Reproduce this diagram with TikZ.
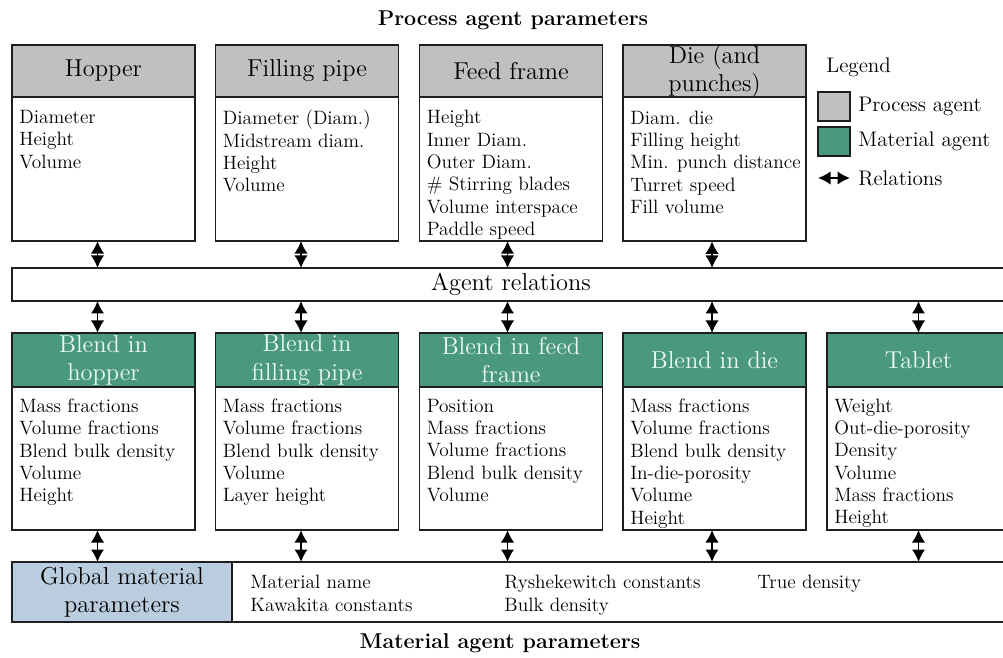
\documentclass[tikz,border=0pt]{standalone}
\usepackage{tikz}
\usetikzlibrary{arrows.meta,positioning}
\definecolor{procgray}{RGB}{192,192,192}
\definecolor{matgreen}{RGB}{74,152,128}
\definecolor{headtext}{RGB}{236,250,244}
\definecolor{globblue}{RGB}{186,205,222}
\definecolor{linegray}{RGB}{30,30,30}
\newcommand{\headfont}{\fontsize{13.9}{16}\selectfont}
\newcommand{\itemfont}{\fontsize{11}{12.7}\selectfont}
\newcommand{\legfont}{\fontsize{12}{14}\selectfont}
\newcommand{\titlefont}{\fontsize{12.2}{14}\selectfont\bfseries}
\tikzstyle{box}      = [draw=linegray, line width=1.1pt, inner sep=0pt, outer sep=0pt, minimum width=36.6mm]
\tikzstyle{prochead} = [box, fill=procgray, minimum height=10.4mm, align=center, font=\headfont]
\tikzstyle{matshead} = [box, fill=matgreen, text=headtext, minimum height=10.8mm, align=center, font=\headfont]
\tikzstyle{items}    = [anchor=north west, align=left, inner sep=0pt, font=\itemfont]
\tikzstyle{legtext}  = [anchor=west, inner sep=0pt, font=\legfont]
\tikzstyle{rel}      = [{Latex[width=2.7mm,length=2.5mm]}-{Latex[width=2.7mm,length=2.5mm]}, line width=1.1pt, draw=black]

\begin{document}
\begin{tikzpicture}[x=0.2mm, y=-0.2mm]
		\useasboundingbox (0,0) rectangle (1003,658);

		% process agents
		\node[font=\titlefont] (ptitle) at (513,20) {Process agent parameters};
		\node[prochead] (hop)   at (103.5,71) {Hopper};
		\node[prochead] (pipe)  at (307,71)   {Filling pipe};
		\node[prochead] (frame) at (511,71)   {Feed frame};
		\node[prochead] (die)   at (714.5,71) {Die (and\\punches)};
		\node[box, minimum height=28.8mm, below=0pt of hop]   (hopbody)   {};
		\node[box, minimum height=28.8mm, below=0pt of pipe]  (pipebody)  {};
		\node[box, minimum height=28.8mm, below=0pt of frame] (framebody) {};
		\node[box, minimum height=28.8mm, below=0pt of die]   (diebody)   {};
		\node[items] (hoplist)   at ([xshift=1.4mm,yshift=-2.6mm]hopbody.north west)   {Diameter\\Height\\Volume};
		\node[items] (pipelist)  at ([xshift=1.4mm,yshift=-2.6mm]pipebody.north west)  {Diameter (Diam.)\\Midstream diam.\\Height\\Volume};
		\node[items] (framelist) at ([xshift=1.4mm,yshift=-2.6mm]framebody.north west) {Height\\Inner Diam.\\Outer Diam.\\\# Stirring blades\\Volume interspace\\Paddle speed};
		\node[items] (dielist)   at ([xshift=1.4mm,yshift=-2.6mm]diebody.north west)   {Diam. die\\Filling height\\Min. punch distance\\Turret speed\\Fill volume};

		% legend
		\node[legtext] (leg) at (826,67) {Legend};
		\node[box, fill=procgray, minimum width=6.4mm, minimum height=5.8mm] (legproc) at (834,106.5) {};
		\node[box, fill=matgreen, minimum width=6.4mm, minimum height=5.8mm] (legmat)  at (834,141.5) {};
		\node[legtext, right=1.6mm of legproc] (legproctxt) {Process agent};
		\node[legtext, right=1.6mm of legmat]  (legmattxt)  {Material agent};
		\coordinate (relA) at (818,178);
		\coordinate (relB) at (850,178);
		\draw[rel] (relA) -- (relB);
		\node[legtext, right=1.6mm of relB] (legreltxt) {Relations};

		% relations bar
		\node[box, minimum width=199.6mm, minimum height=6.6mm, font=\headfont] (bar) at (511,284.5) {Agent relations};

		% material agents
		\node[matshead] (hopmat)   at (103.5,360) {Blend in\\hopper};
		\node[matshead] (pipemat)  at (307,360)   {Blend in\\filling pipe};
		\node[matshead] (framemat) at (511,360)   {Blend in feed\\frame};
		\node[matshead] (diemat)   at (714.5,360) {Blend in die};
		\node[matshead] (tab)      at (918.5,360) {Tablet};
		\node[box, minimum height=28.6mm, below=0pt of hopmat]   (hopmatbody)   {};
		\node[box, minimum height=28.6mm, below=0pt of pipemat]  (pipematbody)  {};
		\node[box, minimum height=28.6mm, below=0pt of framemat] (framematbody) {};
		\node[box, minimum height=28.6mm, below=0pt of diemat]   (diematbody)   {};
		\node[box, minimum height=28.6mm, below=0pt of tab]      (tabbody)      {};
		\node[items] (hopmatlist)   at ([xshift=1.4mm,yshift=-2.3mm]hopmatbody.north west)   {Mass fractions\\Volume fractions\\Blend bulk density\\Volume\\Height};
		\node[items] (pipematlist)  at ([xshift=1.4mm,yshift=-2.3mm]pipematbody.north west)  {Mass fractions\\Volume fractions\\Blend bulk density\\Volume\\Layer height};
		\node[items] (framematlist) at ([xshift=1.4mm,yshift=-2.3mm]framematbody.north west) {Position\\Mass fractions\\Volume fractions\\Blend bulk density\\Volume};
		\node[items] (diematlist)   at ([xshift=1.4mm,yshift=-2.3mm]diematbody.north west)   {Mass fractions\\Volume fractions\\Blend bulk density\\In-die-porosity\\Volume\\Height};
		\node[items] (tablist)      at ([xshift=1.4mm,yshift=-2.3mm]tabbody.north west)      {Weight\\Out-die-porosity\\Density\\Volume\\Mass fractions\\Height};

		% global material parameters
		\node[box, fill=globblue, minimum width=44mm, minimum height=12mm, align=center, font=\headfont] (glob) at (122,592) {Global material\\parameters};
		\node[box, minimum width=155.6mm, minimum height=12mm, right=0pt of glob] (globbody) {};
		\node[items] (globlistA) at (250,575) {Material name\\Kawakita constants};
		\node[items] (globlistB) at (504,575) {Ryshekewitch constants\\Bulk density};
		\node[items] (globlistC) at (757,575) {True density};
		\node[font=\titlefont] (mtitle) at (500,643) {Material agent parameters};

		% relations
		\draw[rel] ([xshift=-1.2mm]hopbody.south)   -- ([xshift=-1.2mm]hopbody.south |- bar.north);
		\draw[rel] ([xshift=-1.2mm]pipebody.south)  -- ([xshift=-1.2mm]pipebody.south |- bar.north);
		\draw[rel] ([xshift=-0.7mm]framebody.south) -- ([xshift=-0.7mm]framebody.south |- bar.north);
		\draw[rel] ([xshift=-0.5mm]diebody.south)   -- ([xshift=-0.5mm]diebody.south |- bar.north);

		\draw[rel] ([xshift=-1.2mm]bar.south -| hopmat.north)   -- ([xshift=-1.2mm]hopmat.north);
		\draw[rel] ([xshift=-1.2mm]bar.south -| pipemat.north)  -- ([xshift=-1.2mm]pipemat.north);
		\draw[rel] ([xshift=-0.7mm]bar.south -| framemat.north) -- ([xshift=-0.7mm]framemat.north);
		\draw[rel] ([xshift=-0.5mm]bar.south -| diemat.north)   -- ([xshift=-0.5mm]diemat.north);
		\draw[rel] (bar.south -| tab.north) -- (tab.north);

		\draw[rel] ([xshift=-1.2mm]hopmatbody.south)   -- ([xshift=-1.2mm]hopmatbody.south |- glob.north);
		\draw[rel] ([xshift=-1.2mm]pipematbody.south)  -- ([xshift=-1.2mm]pipematbody.south |- globbody.north);
		\draw[rel] ([xshift=-0.7mm]framematbody.south) -- ([xshift=-0.7mm]framematbody.south |- globbody.north);
		\draw[rel] ([xshift=-0.5mm]diematbody.south)   -- ([xshift=-0.5mm]diematbody.south |- globbody.north);
		\draw[rel] (tabbody.south) -- (tabbody.south |- globbody.north);
	\end{tikzpicture}
\end{document}
